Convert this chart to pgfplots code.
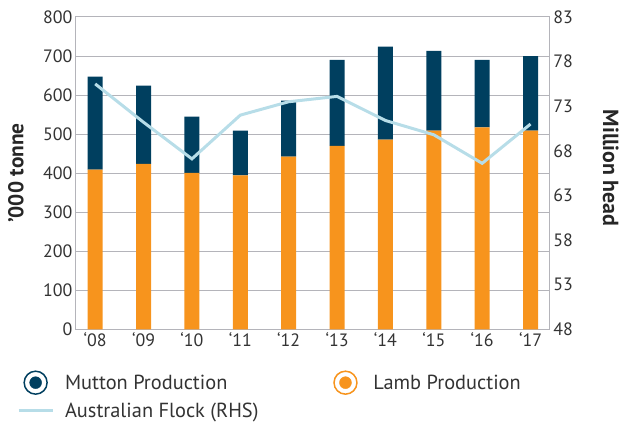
\documentclass[border=0pt]{standalone}
\usepackage{pgfplots}
\pgfplotsset{compat=1.18}
\usepackage{fontspec}
\setmainfont{PT Sans}
\definecolor{navy}{HTML}{003F5F}
\definecolor{lamb}{HTML}{F7941D}
\definecolor{flock}{HTML}{B7DDE8}
\definecolor{gridc}{HTML}{B4B4BA}
\definecolor{txt}{HTML}{333333}
\begin{document}
\begin{tikzpicture}
\pgfplotsset{
 base/.style={scale only axis, width=475bp, height=313bp, xmin=-0.4, xmax=9.4,
  enlargelimits=false,
  /pgf/number format/assume math mode=true,
  tick label style={font=\fontsize{18}{21}\selectfont, text=txt},
  major tick length=0pt,
 }
}
\begin{axis}[base,
 ybar stacked, bar width=15bp,
 ymin=0, ymax=800, ytick={0,100,...,800},
 xtick={0,...,9}, xticklabels={‘08,‘09,‘10,‘11,‘12,‘13,‘14,‘15,‘16,‘17},
 ymajorgrids, grid style={gridc, line width=1bp},
 axis line style={gridc, line width=1bp},
 every axis y label/.style={at={(axis description cs:0,0.5)}, xshift=-60bp, rotate=90, anchor=center,
   font=\fontsize{21.5}{24}\selectfont\bfseries, text=black!85},
 ylabel={’000 tonne},
]
\addplot[fill=lamb, draw=none] coordinates {(0,409) (1,424) (2,401) (3,394) (4,442) (5,470) (6,486) (7,509) (8,517) (9,509)};
\addplot[fill=navy, draw=none] coordinates {(0,238) (1,200) (2,144) (3,115) (4,144) (5,220) (6,238) (7,204) (8,173) (9,191)};
\coordinate (BL) at (rel axis cs:0,0);
\end{axis}
\begin{axis}[base,
 ymin=48, ymax=83, ytick={48,53,...,83},
 axis x line=none, axis y line*=right,
 axis line style={gridc, line width=1bp},
 every axis y label/.style={at={(axis description cs:1,0.5)}, xshift=61bp, yshift=5bp, rotate=-90, anchor=center,
   font=\fontsize{22}{24}\selectfont\bfseries, text=black!85},
 ylabel={Million head},
 legend columns=2,
 legend style={draw=none, fill=none, inner sep=0pt, at={(axis description cs:0,0)}, anchor=north west,
   xshift=-59bp, yshift=-41bp, column sep=9bp, row sep=4bp,
   font=\fontsize{20.5}{23}\selectfont, text=txt},
 legend cell align=left,
]
\addlegendimage{legend image code/.code={\path[draw=none,fill=none] (0,-12bp) rectangle (34bp,12bp); \draw[navy, line width=1.5bp, fill=white] (17bp,0) circle (11.5bp); \fill[navy] (17bp,0) circle (6bp);}}
\addlegendentry{\makebox[253bp][l]{Mutton Production}}
\addlegendimage{legend image code/.code={\path[draw=none,fill=none] (0,-12bp) rectangle (34bp,12bp); \draw[lamb, line width=1.5bp, fill=white] (17bp,0) circle (11.5bp); \fill[lamb] (17bp,0) circle (6bp);}}
\addlegendentry{Lamb Production}
\addplot[flock, line width=3bp, legend image code/.code={\path[draw=none,fill=none] (0,-12bp) rectangle (34bp,12bp); \draw[flock, line width=3bp] (0,0) -- (34bp,0);}] coordinates {(0,75.5) (1,71.2) (2,67.1) (3,72.0) (4,73.5) (5,74.1) (6,71.4) (7,69.8) (8,66.6) (9,71.0)};
\addlegendentry{Australian Flock (RHS)}
\end{axis}
\path (BL) ++(-76bp,-98bp) rectangle ++(622bp,428bp);
\end{tikzpicture}
\end{document}
